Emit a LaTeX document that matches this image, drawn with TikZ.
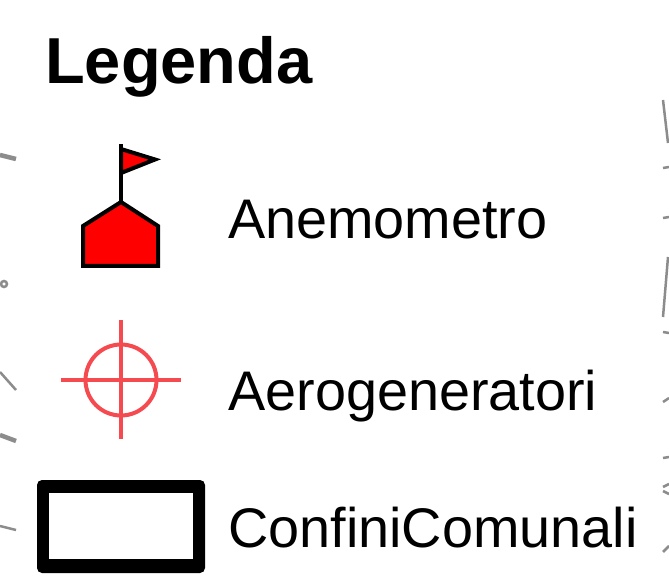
\documentclass[tikz,border=0pt]{standalone}
\usepackage{fontspec}
\setmainfont{Liberation Sans}
\definecolor{markred}{RGB}{245,75,80}
\definecolor{frag}{RGB}{140,140,140}
\tikzset{
  labeltext/.style={anchor=base west,inner sep=0pt,font=\fontsize{55.8}{60}\selectfont},
  titletext/.style={anchor=base west,inner sep=0pt,font=\fontsize{65}{70}\bfseries\selectfont},
  symbol/.style={draw=black,fill=red,line width=4pt,line join=miter},
  target/.style={draw=markred,line width=4pt},
  fragment/.style={draw=frag,line width=2.5pt},
  thickfragment/.style={draw=frag,line width=4.5pt}
}
\begin{document}
\begin{tikzpicture}[x=1pt,y=-1pt]
\useasboundingbox (0,0) rectangle (669,585);
\fill[white] (0,0) rectangle (669,585);
\node[titletext] (title) at (45,84) {Legenda};
\node[labeltext] (l1) at (228,239) {Anemometro};
\node[labeltext] (l2) at (228,410) {Aerogeneratori};
\node[labeltext] (l3) at (228,547) {ConfiniComunali};
% anemometer
\draw[symbol] (121,202) -- (158,226) -- (158,266) -- (83,266) -- (83,226) -- cycle;
\draw[draw=black,line width=4pt] (121,202) -- (121,144);
\draw[symbol] (121,149) -- (155,159.5) -- (121,173) -- cycle;
% target
\draw[target] (121,380) circle (35.5);
\draw[target] (61,380) -- (181,380);
\draw[target] (121,320) -- (121,439);
% boundary
\fill[black,rounded corners=5pt] (37,480) rectangle (205,573);
\fill[white] (49,493) rectangle (193,559);
% cropped map fragments
\draw[thickfragment] (0,155) -- (16,159);
\draw[draw=frag,line width=2.5pt] (4,284) circle (3);
\draw[fragment] (0,372) -- (16,390);
\draw[thickfragment] (0,435) -- (16,441);
\draw[fragment] (0,526) -- (16,530);
\draw[fragment] (663,100) -- (668,143);
\draw[fragment] (663,168) -- (669,167);
\draw[fragment] (663,218) -- (669,217);
\draw[fragment] (668,257) -- (663,317);
\draw[fragment] (663,332) -- (669,333);
\draw[fragment] (663,402) -- (669,398);
\draw[fragment] (663,458) -- (669,457);
\draw[fragment] (663,487) -- (669,484) (663,491) -- (669,494);
\draw[fragment] (663,552) -- (669,546);
\end{tikzpicture}
\end{document}
